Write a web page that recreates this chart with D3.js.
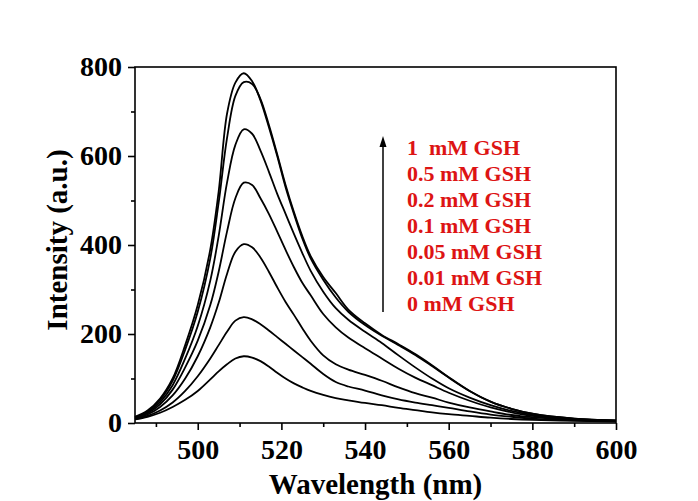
<!DOCTYPE html>
<html><head><meta charset="utf-8">
<script src="https://cdn.jsdelivr.net/npm/d3@7"></script>
<style>body{margin:0;background:#fff}svg{display:block}</style>
</head><body>
<svg id="chart" width="698" height="501"></svg>
<script>
// ---- data ----
const wavelengths = [485, 488, 491, 494, 497, 500, 503, 505, 507, 509, 511, 513, 515, 517, 519, 521, 523, 525, 527, 530, 533, 536, 540, 544, 548, 552, 556, 560, 565, 570, 575, 580, 590, 600];
const gsh1    = [14, 28, 55, 100, 175, 265, 390, 520, 695, 765, 786, 768, 725, 665, 600, 530, 470, 415, 370, 322, 282, 250, 220, 196, 175, 153, 128, 102, 72, 48, 32, 21, 10, 6];
const gsh05   = [13, 26, 52, 95, 165, 250, 370, 495, 640, 735, 766, 762, 728, 670, 604, 535, 474, 420, 375, 328, 292, 255, 224, 198, 177, 155, 130, 103, 72, 48, 32, 21, 10, 6];
const gsh02   = [12, 24, 47, 85, 145, 218, 320, 420, 540, 625, 660, 650, 612, 565, 515, 470, 425, 382, 342, 295, 258, 232, 205, 180, 152, 125, 100, 78, 57, 40, 27, 18, 9, 5];
const gsh01   = [11, 22, 42, 75, 125, 185, 265, 340, 430, 505, 540, 535, 505, 470, 430, 389, 350, 315, 287, 245, 215, 192, 168, 145, 122, 102, 85, 68, 50, 35, 24, 16, 8, 5];
const gsh005  = [10, 19, 36, 62, 100, 150, 215, 270, 335, 385, 402, 395, 372, 340, 305, 272, 243, 213, 185, 152, 132, 120, 108, 95, 80, 67, 57, 46, 35, 26, 18, 13, 7, 4];
const gsh001  = [9, 16, 28, 46, 72, 105, 145, 175, 205, 230, 238, 233, 222, 208, 193, 178, 163, 148, 133, 110, 92, 82, 73, 62, 53, 46, 40, 34, 26, 19, 14, 10, 6, 4];
const gsh0    = [8, 14, 23, 36, 52, 72, 98, 116, 132, 145, 150, 147, 139, 127, 113, 100, 89, 80, 72, 63, 56, 51, 45, 40, 34, 29, 24, 20, 16, 12, 9, 7, 5, 3];
const seriesValues = [gsh1, gsh05, gsh02, gsh01, gsh005, gsh001, gsh0];
const seriesLabels = ["1  mM GSH", "0.5 mM GSH", "0.2 mM GSH", "0.1 mM GSH", "0.05 mM GSH", "0.01 mM GSH", "0 mM GSH"];
const xMajorTicks = [500, 520, 540, 560, 580, 600];
const xMinorTicks = [490, 510, 530, 550, 570, 590];
const yMajorTicks = [0, 200, 400, 600, 800];
const yMinorTicks = [100, 300, 500, 700];
const xTitle = "Wavelength (nm)";
const yTitle = "Intensity (a.u.)";

// ---- layout ----
const L = 135, R = 616, T = 67, B = 423;
const FONT = "'Liberation Serif','Times New Roman',serif";
const svg = d3.select("#chart");
svg.append("rect").attr("width", 698).attr("height", 501).attr("fill", "#fff");

const x = d3.scaleLinear().domain([485, 600]).range([L, R]);
const y = d3.scaleLinear().domain([0, 800]).range([B, T]);

// curves
const line = d3.line().x(d => x(d[0])).y(d => y(d[1])).curve(d3.curveCatmullRom.alpha(0.5));
const g = svg.append("g");
seriesValues.forEach(vals => {
  g.append("path")
    .datum(wavelengths.map((w, i) => [w, vals[i]]))
    .attr("d", line)
    .attr("fill", "none")
    .attr("stroke", "#000")
    .attr("stroke-width", 1.8)
    .attr("stroke-linejoin", "round");
});

// frame
svg.append("rect").attr("x", L).attr("y", T).attr("width", R - L).attr("height", B - T)
  .attr("fill", "none").attr("stroke", "#000").attr("stroke-width", 1.6);

// axes
function styleAxis(sel) {
  sel.select(".domain").remove();
  sel.selectAll("line").attr("stroke", "#000").attr("stroke-width", 1.6);
  sel.selectAll("text").attr("font-family", FONT).attr("font-weight", "bold")
    .attr("font-size", 28).attr("fill", "#000");
}
svg.append("g").attr("transform", `translate(0,${B})`)
  .call(d3.axisBottom(x).tickValues(xMajorTicks).tickSize(7).tickPadding(9).tickFormat(d3.format("d")))
  .call(styleAxis);
svg.append("g").attr("transform", `translate(0,${B})`)
  .call(d3.axisBottom(x).tickValues(xMinorTicks).tickSize(4).tickFormat(""))
  .call(styleAxis);
svg.append("g").attr("transform", `translate(${L},0)`)
  .call(d3.axisLeft(y).tickValues(yMajorTicks).tickSize(7).tickPadding(6).tickFormat(d3.format("d")))
  .call(styleAxis);
svg.append("g").attr("transform", `translate(${L},0)`)
  .call(d3.axisLeft(y).tickValues(yMinorTicks).tickSize(4).tickFormat(""))
  .call(styleAxis);

// titles
svg.append("text").attr("x", (L + R) / 2).attr("y", 494).attr("text-anchor", "middle")
  .attr("font-family", FONT).attr("font-weight", "bold").attr("font-size", 29).text(xTitle);
svg.append("text").attr("transform", "translate(67,240) rotate(-90)").attr("text-anchor", "middle")
  .attr("font-family", FONT).attr("font-weight", "bold").attr("font-size", 29).text(yTitle);

// legend text + arrow
const leg = svg.append("g");
seriesLabels.forEach((t, i) => {
  leg.append("text").attr("x", 407).attr("y", 155 + i * 26)
    .attr("font-family", FONT).attr("font-weight", "bold").attr("font-size", 22)
    .attr("fill", "#dd1414").style("white-space", "pre").text(t);
});
leg.append("line").attr("x1", 383).attr("x2", 383).attr("y1", 312).attr("y2", 145)
  .attr("stroke", "#000").attr("stroke-width", 1.5);
leg.append("path").attr("d", "M383,136 L379.5,147 L386.5,147 Z").attr("fill", "#000");
</script>
</body></html>
